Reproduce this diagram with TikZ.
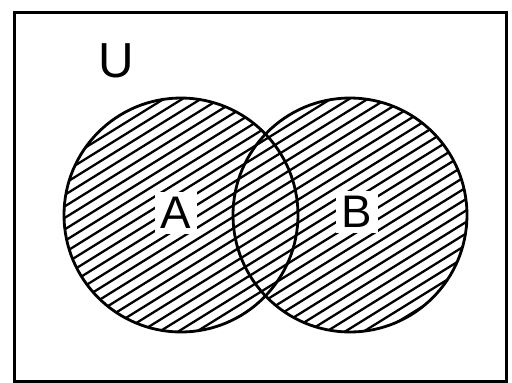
\documentclass[tikz,border=0pt]{standalone}
\usepackage{fontspec}
\setmainfont{Liberation Sans}
\begin{document}
\begin{tikzpicture}[x=0.02cm, y=-0.02cm]
    \useasboundingbox (0,0) rectangle (512,383);
    \node[draw, line width=1.7pt, minimum width=9.84cm, minimum height=7.38cm, anchor=north west] (univ) at (13,11) {};
    % hatching over the union of both sets
    \begin{scope}
      \clip (181,215) circle[radius=117] (350,215) circle[radius=117];
      \foreach \c in {120,131.5,...,640}
        \draw[line width=1.3pt] (40,{\c-24.8}) -- (490,{\c-303.8});
    \end{scope}
    \node[draw, circle, line width=1.6pt, minimum size=4.68cm] (setA) at (181,215) {};
    \node[draw, circle, line width=1.6pt, minimum size=4.68cm] (setB) at (350,215) {};
    \node[fill=white, inner sep=3pt, font=\fontsize{26}{30}\selectfont] (lblA) at (176,213) {A};
    \node[fill=white, inner sep=3pt, font=\fontsize{26}{30}\selectfont] (lblB) at (357,212) {B};
    \node[font=\fontsize{28}{32}\selectfont] (lblU) at (116,61) {U};
  \end{tikzpicture}
\end{document}
